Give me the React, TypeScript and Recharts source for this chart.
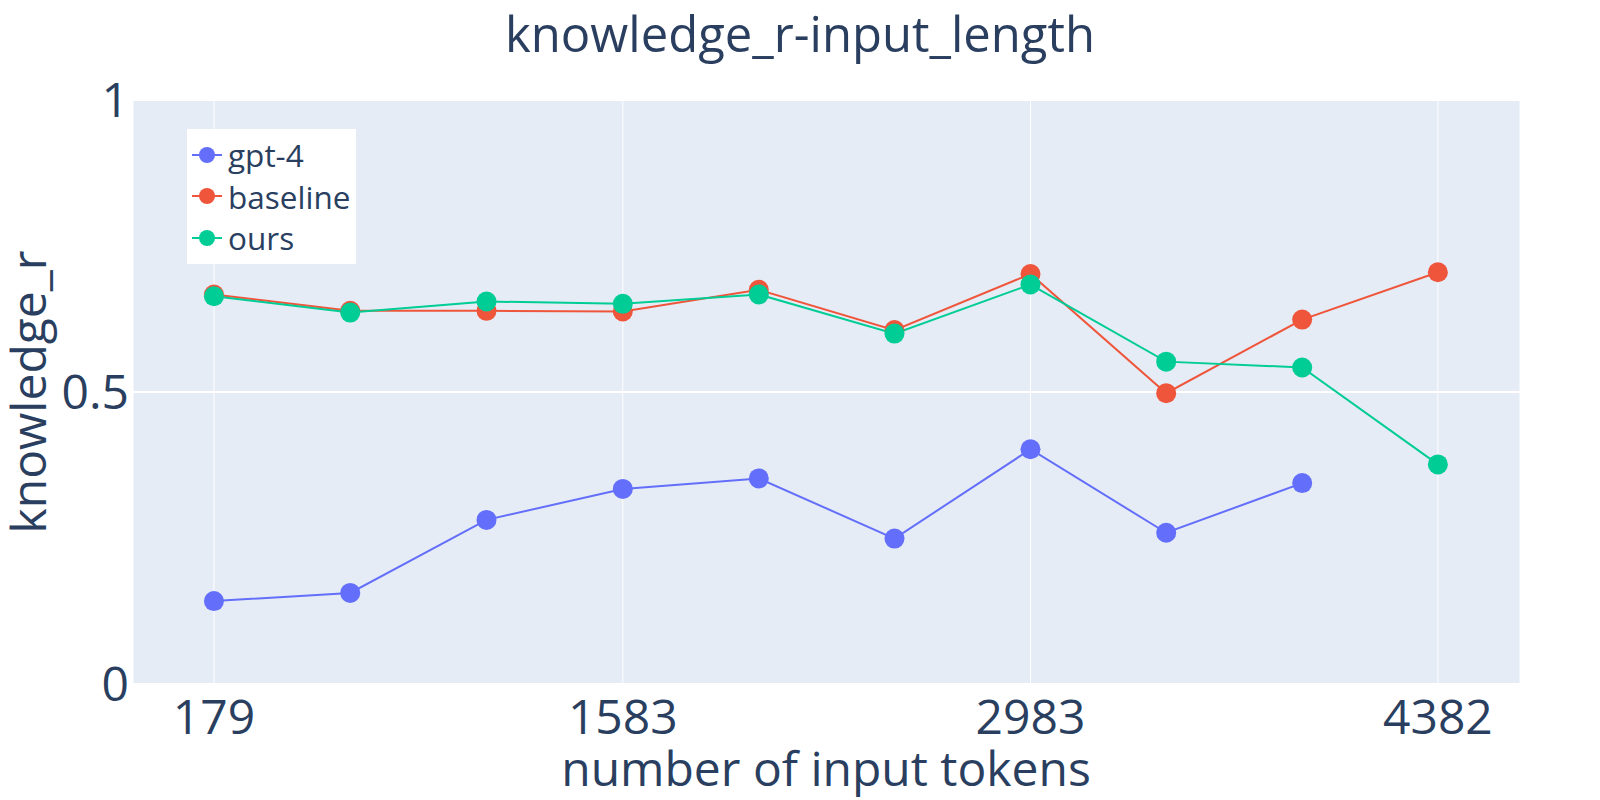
import { LineChart, Line, XAxis, YAxis, CartesianGrid, Legend, Label } from 'recharts';

const inputTokens = [179, 647, 1115, 1583, 2050, 2516, 2983, 3449, 3916, 4382];
const gpt4Scores = [0.142, 0.156, 0.281, 0.334, 0.352, 0.249, 0.402, 0.259, 0.344, null];
const baselineScores = [0.667, 0.639, 0.639, 0.638, 0.675, 0.606, 0.702, 0.498, 0.624, 0.705];
const oursScores = [0.664, 0.636, 0.655, 0.651, 0.667, 0.6, 0.684, 0.552, 0.542, 0.376];

const xTicks = [179, 1583, 2983, 4382];
const yTicks = [0, 0.5, 1];

const SERIES = [
  { key: 'gpt4', name: 'gpt-4', color: '#636efa' },
  { key: 'baseline', name: 'baseline', color: '#EF553B' },
  { key: 'ours', name: 'ours', color: '#00cc96' },
];

const FONT = '"Open Sans", "Noto Sans", sans-serif';
const TEXT = '#2a3f5f';

const chartData = inputTokens.map((x, i) => ({
  x,
  gpt4: gpt4Scores[i],
  baseline: baselineScores[i],
  ours: oursScores[i],
}));

function LegendBox() {
  return (
    <div style={{ background: '#fff', width: 169, height: 135, paddingTop: 5, boxSizing: 'border-box' }}>
      {SERIES.map(s => (
        <div key={s.key} style={{ display: 'flex', alignItems: 'center', height: 41.5, marginLeft: 5 }}>
          <svg width={30} height={20} style={{ marginRight: 6 }}>
            <line x1={0} y1={10} x2={30} y2={10} stroke={s.color} strokeWidth={2} />
            <circle cx={15} cy={10} r={8} fill={s.color} />
          </svg>
          <span style={{ fontFamily: FONT, fontSize: 31.5, color: TEXT, lineHeight: 1 }}>{s.name}</span>
        </div>
      ))}
    </div>
  );
}

export default function App() {
  return (
    <div style={{ position: 'absolute', left: 0, top: 0, width: 1600, height: 800, background: '#fff' }}>
      <svg width={1600} height={100} style={{ position: 'absolute', left: 0, top: 0 }}>
        <text x={800} y={52} textAnchor="middle" fontFamily={FONT} fontSize={49} fill={TEXT}>
          knowledge_r-input_length
        </text>
      </svg>
      <LineChart
        width={1600}
        height={800}
        data={chartData}
        margin={{ top: 100, right: 80, bottom: 0, left: 0 }}
        style={{ position: 'absolute', left: 0, top: 0 }}
      >
        <CartesianGrid fill="#E5ECF6" stroke="#fff" strokeWidth={1} horizontal={false} />
        <CartesianGrid stroke="#fff" strokeWidth={2} vertical={false} />
        <XAxis
          dataKey="x"
          type="number"
          domain={[-99, 4664]}
          ticks={xTicks}
          allowDataOverflow
          height={116}
          tickLine={false}
          axisLine={false}
          tickSize={0}
          tickMargin={16}
          tick={{ fontSize: 48, fill: TEXT, fontFamily: FONT }}
        >
          <Label
            content={() => (
              <text x={826} y={786} textAnchor="middle" fontFamily={FONT} fontSize={48} fill={TEXT}>
                number of input tokens
              </text>
            )}
          />
        </XAxis>
        <YAxis
          type="number"
          domain={[0, 1]}
          ticks={yTicks}
          width={133}
          tickLine={false}
          axisLine={false}
          tickSize={0}
          tickMargin={4}
          tickFormatter={(v: number) => String(v)}
          tick={{ fontSize: 48, fill: TEXT, fontFamily: FONT }}
        >
          <Label
            content={() => (
              <text
                x={46}
                y={392}
                transform="rotate(-90 46 392)"
                textAnchor="middle"
                fontFamily={FONT}
                fontSize={48}
                fill={TEXT}
              >
                knowledge_r
              </text>
            )}
          />
        </YAxis>
        <Legend
          layout="vertical"
          align="center"
          verticalAlign="middle"
          content={() => <LegendBox />}
          wrapperStyle={{ left: 187, top: 129, width: 169, height: 135 }}
        />
        {SERIES.map(s => (
          <Line
            key={s.key}
            type="linear"
            dataKey={s.key}
            name={s.name}
            stroke={s.color}
            strokeWidth={2}
            dot={{ r: 10, fill: s.color, stroke: 'none', strokeWidth: 0 }}
            activeDot={false}
            connectNulls={false}
            isAnimationActive={false}
          />
        ))}
      </LineChart>
    </div>
  );
}
